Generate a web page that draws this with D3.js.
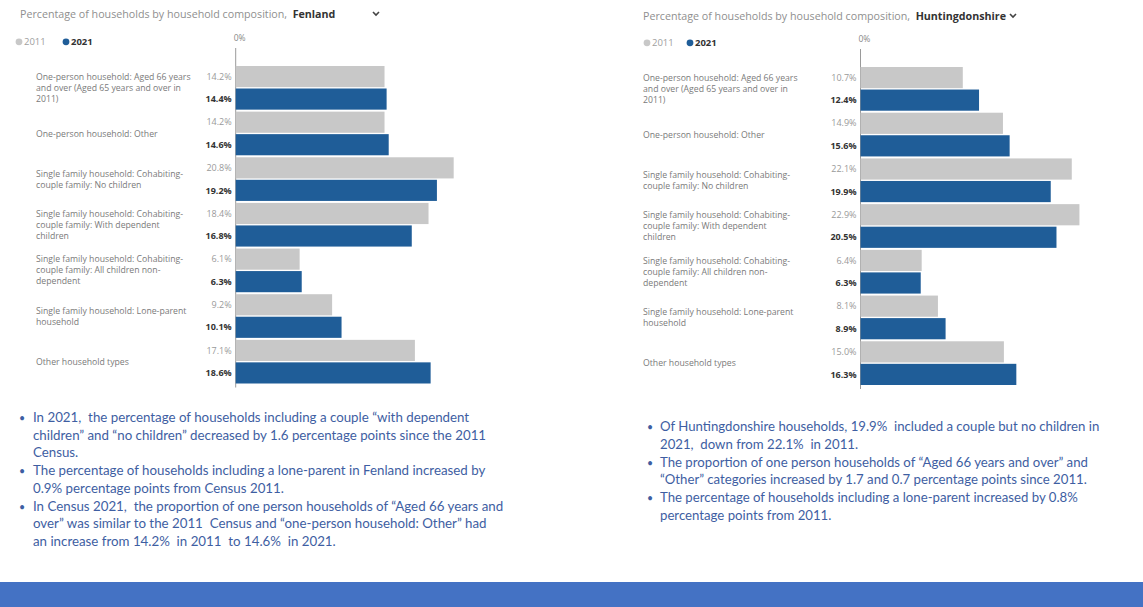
<!DOCTYPE html>
<html>
<head>
<meta charset="utf-8">
<script src="https://cdn.jsdelivr.net/npm/d3@7"></script>
<style>
  html, body { margin: 0; padding: 0; background: #fff; }
  svg { display: block; }
  svg text { white-space: pre; }
</style>
</head>
<body>
<svg id="page" width="1143" height="607"></svg>
<script>
// Household composition categories (label lines as shown on the chart)
const categories = [
  ["One-person household: Aged 66 years", "and over (Aged 65 years and over in", "2011)"],
  ["One-person household: Other"],
  ["Single family household: Cohabiting-", "couple family: No children"],
  ["Single family household: Cohabiting-", "couple family: With dependent", "children"],
  ["Single family household: Cohabiting-", "couple family: All children non-", "dependent"],
  ["Single family household: Lone-parent", "household"],
  ["Other household types"]
];
const years = ["2011", "2021"];

// Fenland, % of households
const fenland2011 = [14.2, 14.2, 20.8, 18.4, 6.1, 9.2, 17.1];
const fenland2021 = [14.4, 14.6, 19.2, 16.8, 6.3, 10.1, 18.6];

// Huntingdonshire, % of households
const hunts2011 = [10.7, 14.9, 22.1, 22.9, 6.4, 8.1, 15.0];
const hunts2021 = [12.4, 15.6, 19.9, 20.5, 6.3, 8.9, 16.3];

// Commentary under each chart
const fenlandNotes = [
  ["In 2021,  the percentage of households including a couple \u201cwith dependent",
   "children\u201d and \u201cno children\u201d decreased by 1.6 percentage points since the 2011",
   "Census."],
  ["The percentage of households including a lone-parent in Fenland increased by",
   "0.9% percentage points from Census 2011."],
  ["In Census 2021,  the proportion of one person households of \u201cAged 66 years and",
   "over\u201d was similar to the 2011  Census and \u201cone-person household: Other\u201d had",
   "an increase from 14.2%  in 2011  to 14.6%  in 2021."]
];
const huntsNotes = [
  ["Of Huntingdonshire households, 19.9%  included a couple but no children in",
   "2021,  down from 22.1%  in 2011."],
  ["The proportion of one person households of \u201cAged 66 years and over\u201d and",
   "\u201cOther\u201d categories increased by 1.7 and 0.7 percentage points since 2011."],
  ["The percentage of households including a lone-parent increased by 0.8%",
   "percentage points from 2011."]
];

const COLOR_2011 = "#c8c8c8";
const COLOR_2021 = "#1f5d98";
const CHART_FONT = "'Open Sans', sans-serif";

const svg = d3.select("#page");
svg.append("rect").attr("width", 1143).attr("height", 607).attr("fill", "#fff");

function drawChart(cfg) {
  const g = svg.append("g");
  const rows = categories.map((c, i) => ({
    lines: c, key: i, v2011: cfg.v2011[i], v2021: cfg.v2021[i]
  }));

  const x = d3.scaleLinear().domain([0, 25]).range([cfg.x0, cfg.x0 + 25 * cfg.pxPerPct]);
  const y = d3.scaleBand().domain(rows.map(r => r.key)).range([cfg.top, cfg.bottom]).padding(0);
  const yInner = d3.scaleBand().domain(years).range([1, y.bandwidth() - 1]).paddingInner(0.06);

  // Title with bold area name
  const title = g.append("text")
    .attr("x", cfg.titleX).attr("y", cfg.titleY)
    .attr("font-family", CHART_FONT).attr("font-size", 10.7).attr("fill", "#8f8f8f");
  title.append("tspan").text("Percentage of households by household composition,  ");
  title.append("tspan").attr("font-weight", 700).attr("fill", "#333").text(cfg.area);
  const tw = title.node().getComputedTextLength();

  // Dropdown chevron
  const cx = cfg.chevronX != null ? cfg.chevronX : cfg.titleX + tw + 4;
  g.append("path")
    .attr("d", `M${cx},${cfg.titleY - 6} l3,3 l3,-3`)
    .attr("fill", "none").attr("stroke", "#444").attr("stroke-width", 1.6);

  // Legend
  const legend = g.append("g").attr("font-family", CHART_FONT).attr("font-size", 9.5);
  years.forEach((yr, i) => {
    const lx = cfg.legendX[i];
    legend.append("circle").attr("cx", lx).attr("cy", cfg.legendY - 3.2)
      .attr("r", 3.4).attr("fill", i === 0 ? COLOR_2011 : COLOR_2021);
    legend.append("text").attr("x", lx + 5).attr("y", cfg.legendY)
      .attr("fill", i === 0 ? "#a0a0a0" : "#333")
      .attr("font-weight", i === 0 ? 400 : 700).text(yr);
  });

  // 0% tick on top axis
  const axis = g.append("g").attr("transform", `translate(0,${cfg.legendY - 10})`)
    .call(d3.axisTop(x).tickValues([0]).tickFormat(d => d + "%").tickSize(0).tickPadding(0));
  axis.select(".domain").remove();
  axis.selectAll("text").attr("font-family", CHART_FONT).attr("font-size", 8.5)
    .attr("fill", "#888").attr("dy", "0.71em").attr("dx", "0.4em");

  // Baseline at 0%
  g.append("line")
    .attr("x1", x(0)).attr("x2", x(0))
    .attr("y1", cfg.legendY + 3).attr("y2", cfg.bottom + 3)
    .attr("stroke", "#9a9a9a").attr("stroke-width", 1);

  const groups = g.selectAll("g.row").data(rows).join("g")
    .attr("class", "row")
    .attr("transform", d => `translate(0,${y(d.key)})`);

  // Bars
  groups.selectAll("rect").data(d => years.map(yr => ({ yr, v: d["v" + yr] }))).join("rect")
    .attr("x", x(0))
    .attr("y", d => yInner(d.yr))
    .attr("width", d => x(d.v) - x(0))
    .attr("height", yInner.bandwidth())
    .attr("fill", d => d.yr === "2011" ? COLOR_2011 : COLOR_2021);

  // Value labels
  groups.selectAll("text.val").data(d => years.map(yr => ({ yr, v: d["v" + yr] }))).join("text")
    .attr("class", "val")
    .attr("x", x(0) - 4)
    .attr("y", d => yInner(d.yr) + yInner.bandwidth() / 2)
    .attr("dy", "0.35em")
    .attr("text-anchor", "end")
    .attr("font-family", CHART_FONT).attr("font-size", 9)
    .attr("font-weight", d => d.yr === "2021" ? 700 : 400)
    .attr("fill", d => d.yr === "2021" ? "#333" : "#9a9a9a")
    .text(d => d.v.toFixed(1) + "%");

  // Category labels, vertically centred on each pair of bars
  const lh = 11;
  groups.append("text")
    .attr("class", "cat")
    .attr("font-family", CHART_FONT).attr("font-size", 8.7).attr("fill", "#7a7a7a")
    .each(function (d) {
      const t = d3.select(this);
      const n = d.lines.length;
      const start = y.bandwidth() / 2 - (n - 1) * lh / 2;
      d.lines.forEach((ln, i) => {
        t.append("tspan").attr("x", cfg.labelX).attr("y", start + i * lh).attr("dy", "0.35em").text(ln);
      });
    });
}

function drawNotes(notes, cfg) {
  const g = svg.append("g").attr("font-family", "Lato, 'Open Sans', sans-serif")
    .attr("font-size", cfg.fontSize).attr("fill", "#3e5ea2");
  let k = 0;
  notes.forEach(para => {
    para.forEach((ln, i) => {
      const yy = cfg.y0 + k * cfg.lh;
      if (i === 0) {
        g.append("text").attr("x", cfg.bulletX).attr("y", yy).attr("font-size", cfg.fontSize * 0.8).text("\u2022");
      }
      g.append("text").attr("x", cfg.textX).attr("y", yy).text(ln);
      k++;
    });
  });
}

drawChart({
  area: "Fenland", v2011: fenland2011, v2021: fenland2021,
  x0: 235.7, pxPerPct: 10.48, top: 65, bottom: 384.5,
  titleX: 20, titleY: 18, chevronX: 373, legendX: [19, 66], legendY: 45, labelX: 36
});

drawChart({
  area: "Huntingdonshire", v2011: hunts2011, v2021: hunts2021,
  x0: 860.5, pxPerPct: 9.56, top: 66, bottom: 386,
  titleX: 643, titleY: 20, legendX: [647, 690], legendY: 46, labelX: 643
});

drawNotes(fenlandNotes, { y0: 422, lh: 17.7, bulletX: 19, textX: 33, fontSize: 13.3 });
drawNotes(huntsNotes, { y0: 431, lh: 17.8, bulletX: 647, textX: 660, fontSize: 13.2 });

// Footer band
svg.append("rect").attr("x", 0).attr("y", 582).attr("width", 1143).attr("height", 25).attr("fill", "#4472c4");
</script>
</body>
</html>
